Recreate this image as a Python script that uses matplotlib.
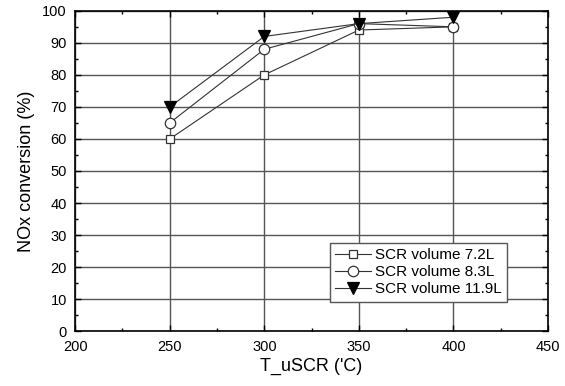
import numpy as np
import matplotlib.pyplot as plt
from matplotlib.ticker import MultipleLocator

plt.rcParams['font.family'] = ['Liberation Sans', 'DejaVu Sans']

# Data
temps = [250, 300, 350, 400]
vol_7_2 = [60, 80, 94, 95]
vol_8_3 = [65, 88, 96, 95]
vol_11_9 = [70, 92, 96, 98]
labels = ['SCR volume 7.2L', 'SCR volume 8.3L', 'SCR volume 11.9L']


def main():
    fig = plt.figure(figsize=(5.65, 3.86), dpi=100)
    ax = fig.add_axes([0.133, 0.142, 0.837, 0.830])

    ax.plot(temps, vol_7_2, '-', color='#333333', lw=0.8, marker='s', ms=6,
            mfc='white', mec='#333333', mew=0.9, label=labels[0], zorder=3)
    ax.plot(temps, vol_8_3, '-', color='#333333', lw=0.8, marker='o', ms=7.5,
            mfc='white', mec='#333333', mew=0.9, label=labels[1], zorder=3)
    ax.plot(temps, vol_11_9, '-', color='#333333', lw=0.8, marker='v', ms=9,
            mfc='black', mec='black', mew=0.9, label=labels[2], zorder=4)

    ax.set_xlim(200, 450)
    ax.set_ylim(0, 100)
    ax.xaxis.set_major_locator(MultipleLocator(50))
    ax.xaxis.set_minor_locator(MultipleLocator(25))
    ax.yaxis.set_major_locator(MultipleLocator(10))
    ax.yaxis.set_minor_locator(MultipleLocator(5))
    ax.tick_params(which='both', direction='in', top=True, right=True,
                   labelsize=10.5, width=1.0)
    ax.tick_params(which='major', length=4, pad=6)
    ax.tick_params(which='minor', length=2.5)
    ax.grid(True, which='major', color='#555555', lw=1.0)
    for s in ax.spines.values():
        s.set_linewidth(1.2)

    ax.set_xlabel("T_uSCR ('C)", fontsize=13, labelpad=3)
    ax.set_ylabel('NOx conversion (%)', fontsize=13, labelpad=5)

    leg = ax.legend(loc='lower right', bbox_to_anchor=(0.93, 0.068),
                    fontsize=11, fancybox=False, framealpha=1,
                    edgecolor='#555555', handlelength=2.3,
                    handletextpad=0.3, borderpad=0.35, labelspacing=0.2)
    leg.get_frame().set_linewidth(1.0)

    fig.savefig('out.png', dpi=100)


if __name__ == "__main__":
    main()
